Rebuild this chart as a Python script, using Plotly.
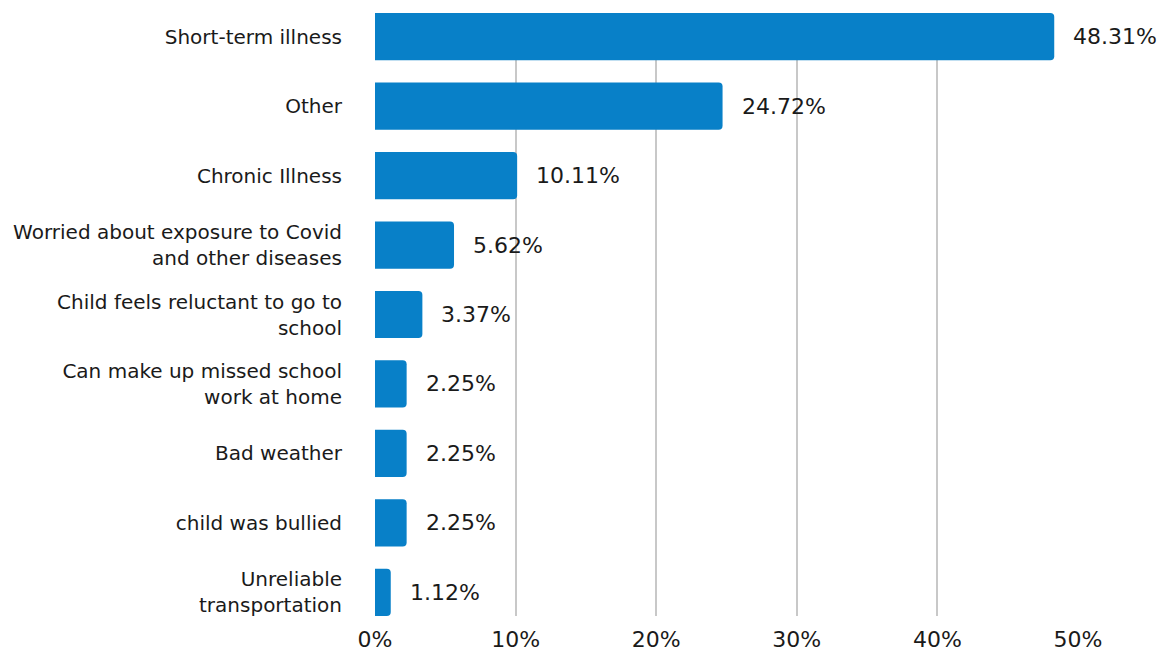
import plotly.graph_objects as go

categories = [
    "Short-term illness",
    "Other",
    "Chronic Illness",
    "Worried about exposure to Covid<br>and other diseases",
    "Child feels reluctant to go to<br>school",
    "Can make up missed school<br>work at home",
    "Bad weather",
    "child was bullied",
    "Unreliable<br>transportation",
]
values = [48.31, 24.72, 10.11, 5.62, 3.37, 2.25, 2.25, 2.25, 1.12]
value_labels = ["48.31%", "24.72%", "10.11%", "5.62%", "3.37%", "2.25%", "2.25%", "2.25%", "1.12%"]
tick_vals = [0, 10, 20, 30, 40, 50]
tick_text = ["0%", "10%", "20%", "30%", "40%", "50%"]

BAR = "#0880C8"
TXT = "#1a1a1a"
FONT = "DejaVu Sans"

fig = go.Figure(go.Bar(
    x=values,
    y=categories,
    orientation="h",
    marker=dict(color=BAR, line=dict(width=0)),
    width=0.68,
    hoverinfo="skip",
))

for v, lab, c in zip(values, value_labels, categories):
    fig.add_annotation(x=v, y=c, text=lab, showarrow=False, xanchor="left",
                       xshift=17, font=dict(family=FONT, size=22, color=TXT))

fig.update_layout(
    width=1165, height=653,
    margin=dict(l=375, r=87, t=13, b=37),
    paper_bgcolor="white", plot_bgcolor="white",
    barcornerradius=4,
    showlegend=False,
    font=dict(family=FONT, color=TXT),
    xaxis=dict(range=[0, 50], tickvals=tick_vals, ticktext=tick_text,
               showgrid=True, gridcolor="#c8c8c8", gridwidth=2,
               zeroline=False, showline=False, automargin=False,
               ticks="outside", ticklen=4, tickcolor="rgba(0,0,0,0)",
               tickfont=dict(family=FONT, size=22, color=TXT)),
    yaxis=dict(range=[len(categories) - 1 + 0.34, -0.34], showgrid=False,
               zeroline=False, showline=False, automargin=False,
               ticks="outside", ticklen=28, tickcolor="rgba(0,0,0,0)",
               tickfont=dict(family=FONT, size=20, color=TXT)),
)

fig.write_html("out.html")
